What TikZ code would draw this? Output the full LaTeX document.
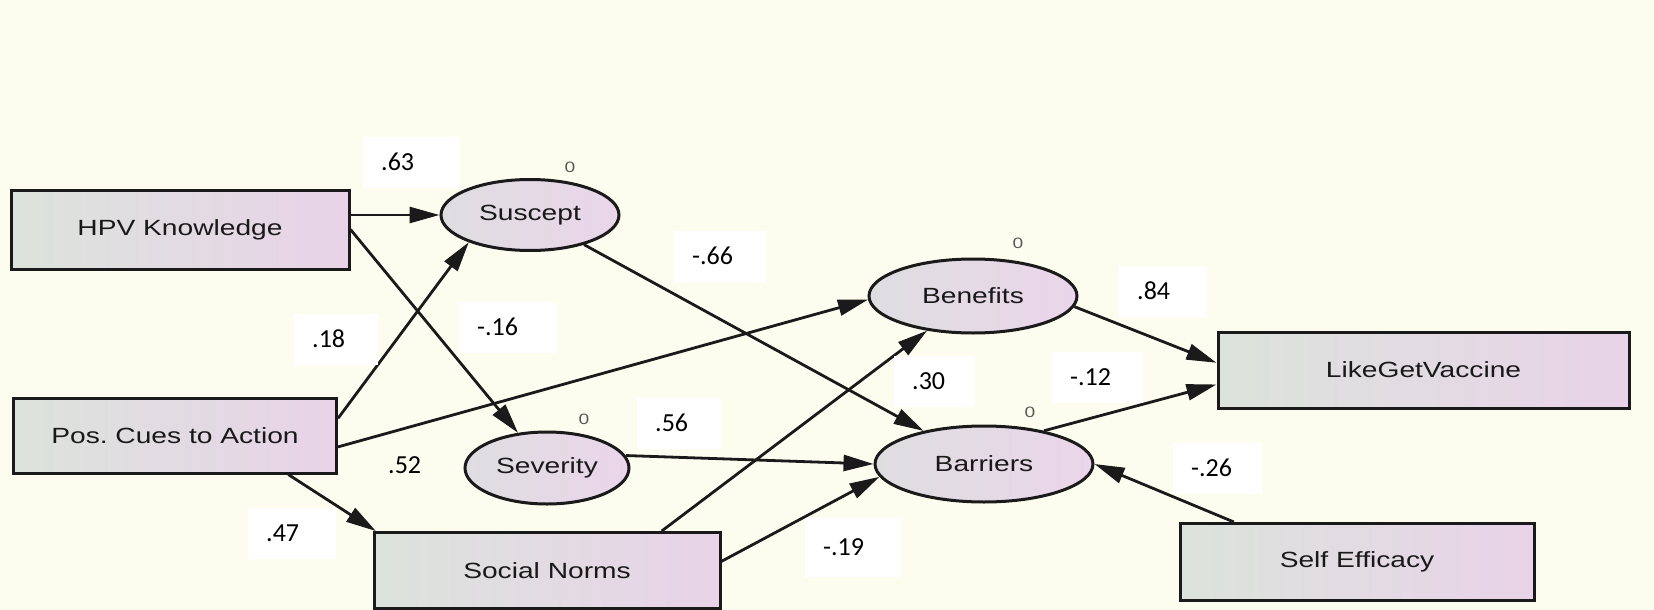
\documentclass[tikz,border=0pt]{standalone}
\usepackage{fontspec}
\setmainfont{Liberation Sans}
\newfontfamily\amosfont[FakeStretch=1.28]{Liberation Sans}
\newfontfamily\pptfont{Carlito}
\usetikzlibrary{arrows.meta}
\usetikzlibrary{shapes.geometric}

\definecolor{paper}{HTML}{FDFDEF}
\definecolor{boxleft}{HTML}{DCE3DC}
\definecolor{boxright}{HTML}{E8D3E8}
\definecolor{ovalleft}{HTML}{DEDEE0}
\definecolor{ovalright}{HTML}{EAD5EA}
\definecolor{edge}{HTML}{1A1A1A}

\begin{document}
\begin{tikzpicture}[
		x=1pt, y=-1pt,
		arrow/.style={line width=2.8pt, draw=edge, -{Triangle[length=30pt, width=16pt]}},
		observed/.style={draw=edge, line width=3pt, left color=boxleft, right color=boxright, text=black!90, font=\amosfont\fontsize{22}{26}\selectfont},
		latent/.style={ellipse, draw=edge, line width=3pt, left color=ovalleft, right color=ovalright, text=black!90, font=\amosfont\fontsize{22}{26}\selectfont, inner sep=0pt},
		coef/.style={fill=white, anchor=west, minimum height=51pt, inner xsep=18pt, inner ysep=0pt, text width=#1, align=left, font=\pptfont\fontsize{26}{30}\selectfont},
		coef/.default=56pt,
		zero/.style={text=black!65, font=\amosfont\fontsize{15}{18}\selectfont},
	]
	\fill[paper] (0,0) rectangle (1654,610);
	\useasboundingbox (0,0) rectangle (1654,610);

	% observed variables
	\node[observed, minimum width=338pt, minimum height=79pt] (hpv) at (180,229.5) {HPV Knowledge};
	\node[observed, minimum width=323pt, minimum height=75pt] (cues) at (175,435.5) {Pos.\ Cues to Action};
	\node[observed, minimum width=346pt, minimum height=76pt] (norms) at (547,570.5) {Social Norms};
	\node[observed, minimum width=411pt, minimum height=76pt] (vaccine) at (1423.5,370) {LikeGetVaccine};
	\node[observed, minimum width=354pt, minimum height=77pt] (efficacy) at (1357,562) {Self Efficacy};

	% latent variables
	\node[latent, minimum width=178pt, minimum height=71pt] (suscept) at (530,215) {Suscept};
	\node[latent, minimum width=164pt, minimum height=72pt] (severity) at (547,468) {Severity};
	\node[latent, minimum width=208pt, minimum height=74pt] (benefits) at (973,296) {Benefits};
	\node[latent, minimum width=218pt, minimum height=76pt] (barriers) at (984,464) {Barriers};

	\node[zero] (susceptzero) at (570,167) {0};
	\node[zero] (severityzero) at (584,419) {0};
	\node[zero] (benefitszero) at (1018,243) {0};
	\node[zero] (barrierszero) at (1030,412) {0};

	% paths
	\draw[arrow] (hpv.east |- suscept.west) -- (suscept.west);
	\draw[arrow] (hpv.east) -- (severity);
	\draw[arrow] (cues.6) -- (suscept.204);
	\draw[arrow] (cues.-4) -- (benefits.182);
	\draw[arrow] (cues.341) -- (norms.167);
	\draw[arrow] (suscept) -- (barriers);
	\draw[arrow] (severity.9) -- (barriers.west);
	\draw[arrow] (norms.19) -- (benefits);
	\draw[arrow] (norms.3) -- (barriers.187);
	\draw[arrow] (benefits.354) -- (vaccine.178);
	\draw[arrow] (barriers.29) -- (vaccine.184);
	\draw[arrow] (efficacy.162) -- (barriers.east);

	% estimates
	\node[coef=61pt] (hpvsuscept) at (363,162) {.63};
	\node[coef=48pt] (cuessuscept) at (294,339) {.18};
	\node[coef=62pt] (hpvseverity) at (459,327) {-.16};
	\node[coef=56pt] (susceptbarriers) at (674,256) {-.66};
	\node[coef=52pt] (benefitsvaccine) at (1119,291) {.84};
	\node[coef=45pt] (normsbenefits) at (894,381) {.30};
	\node[coef=55pt] (barriersvaccine) at (1052,377) {-.12};
	\node[coef=48pt] (severitybarriers) at (637,423) {.56};
	\node[coef=48pt, fill=none] (cuesbenefits) at (370,465) {.52};
	\node[coef=52pt] (cuesnorms) at (248,533) {.47};
	\node[coef=60pt, minimum height=59pt] (normsbarriers) at (805,547) {-.19};
	\node[coef=53pt] (efficacybarriers) at (1173,468) {-.26};
\end{tikzpicture}
\end{document}
